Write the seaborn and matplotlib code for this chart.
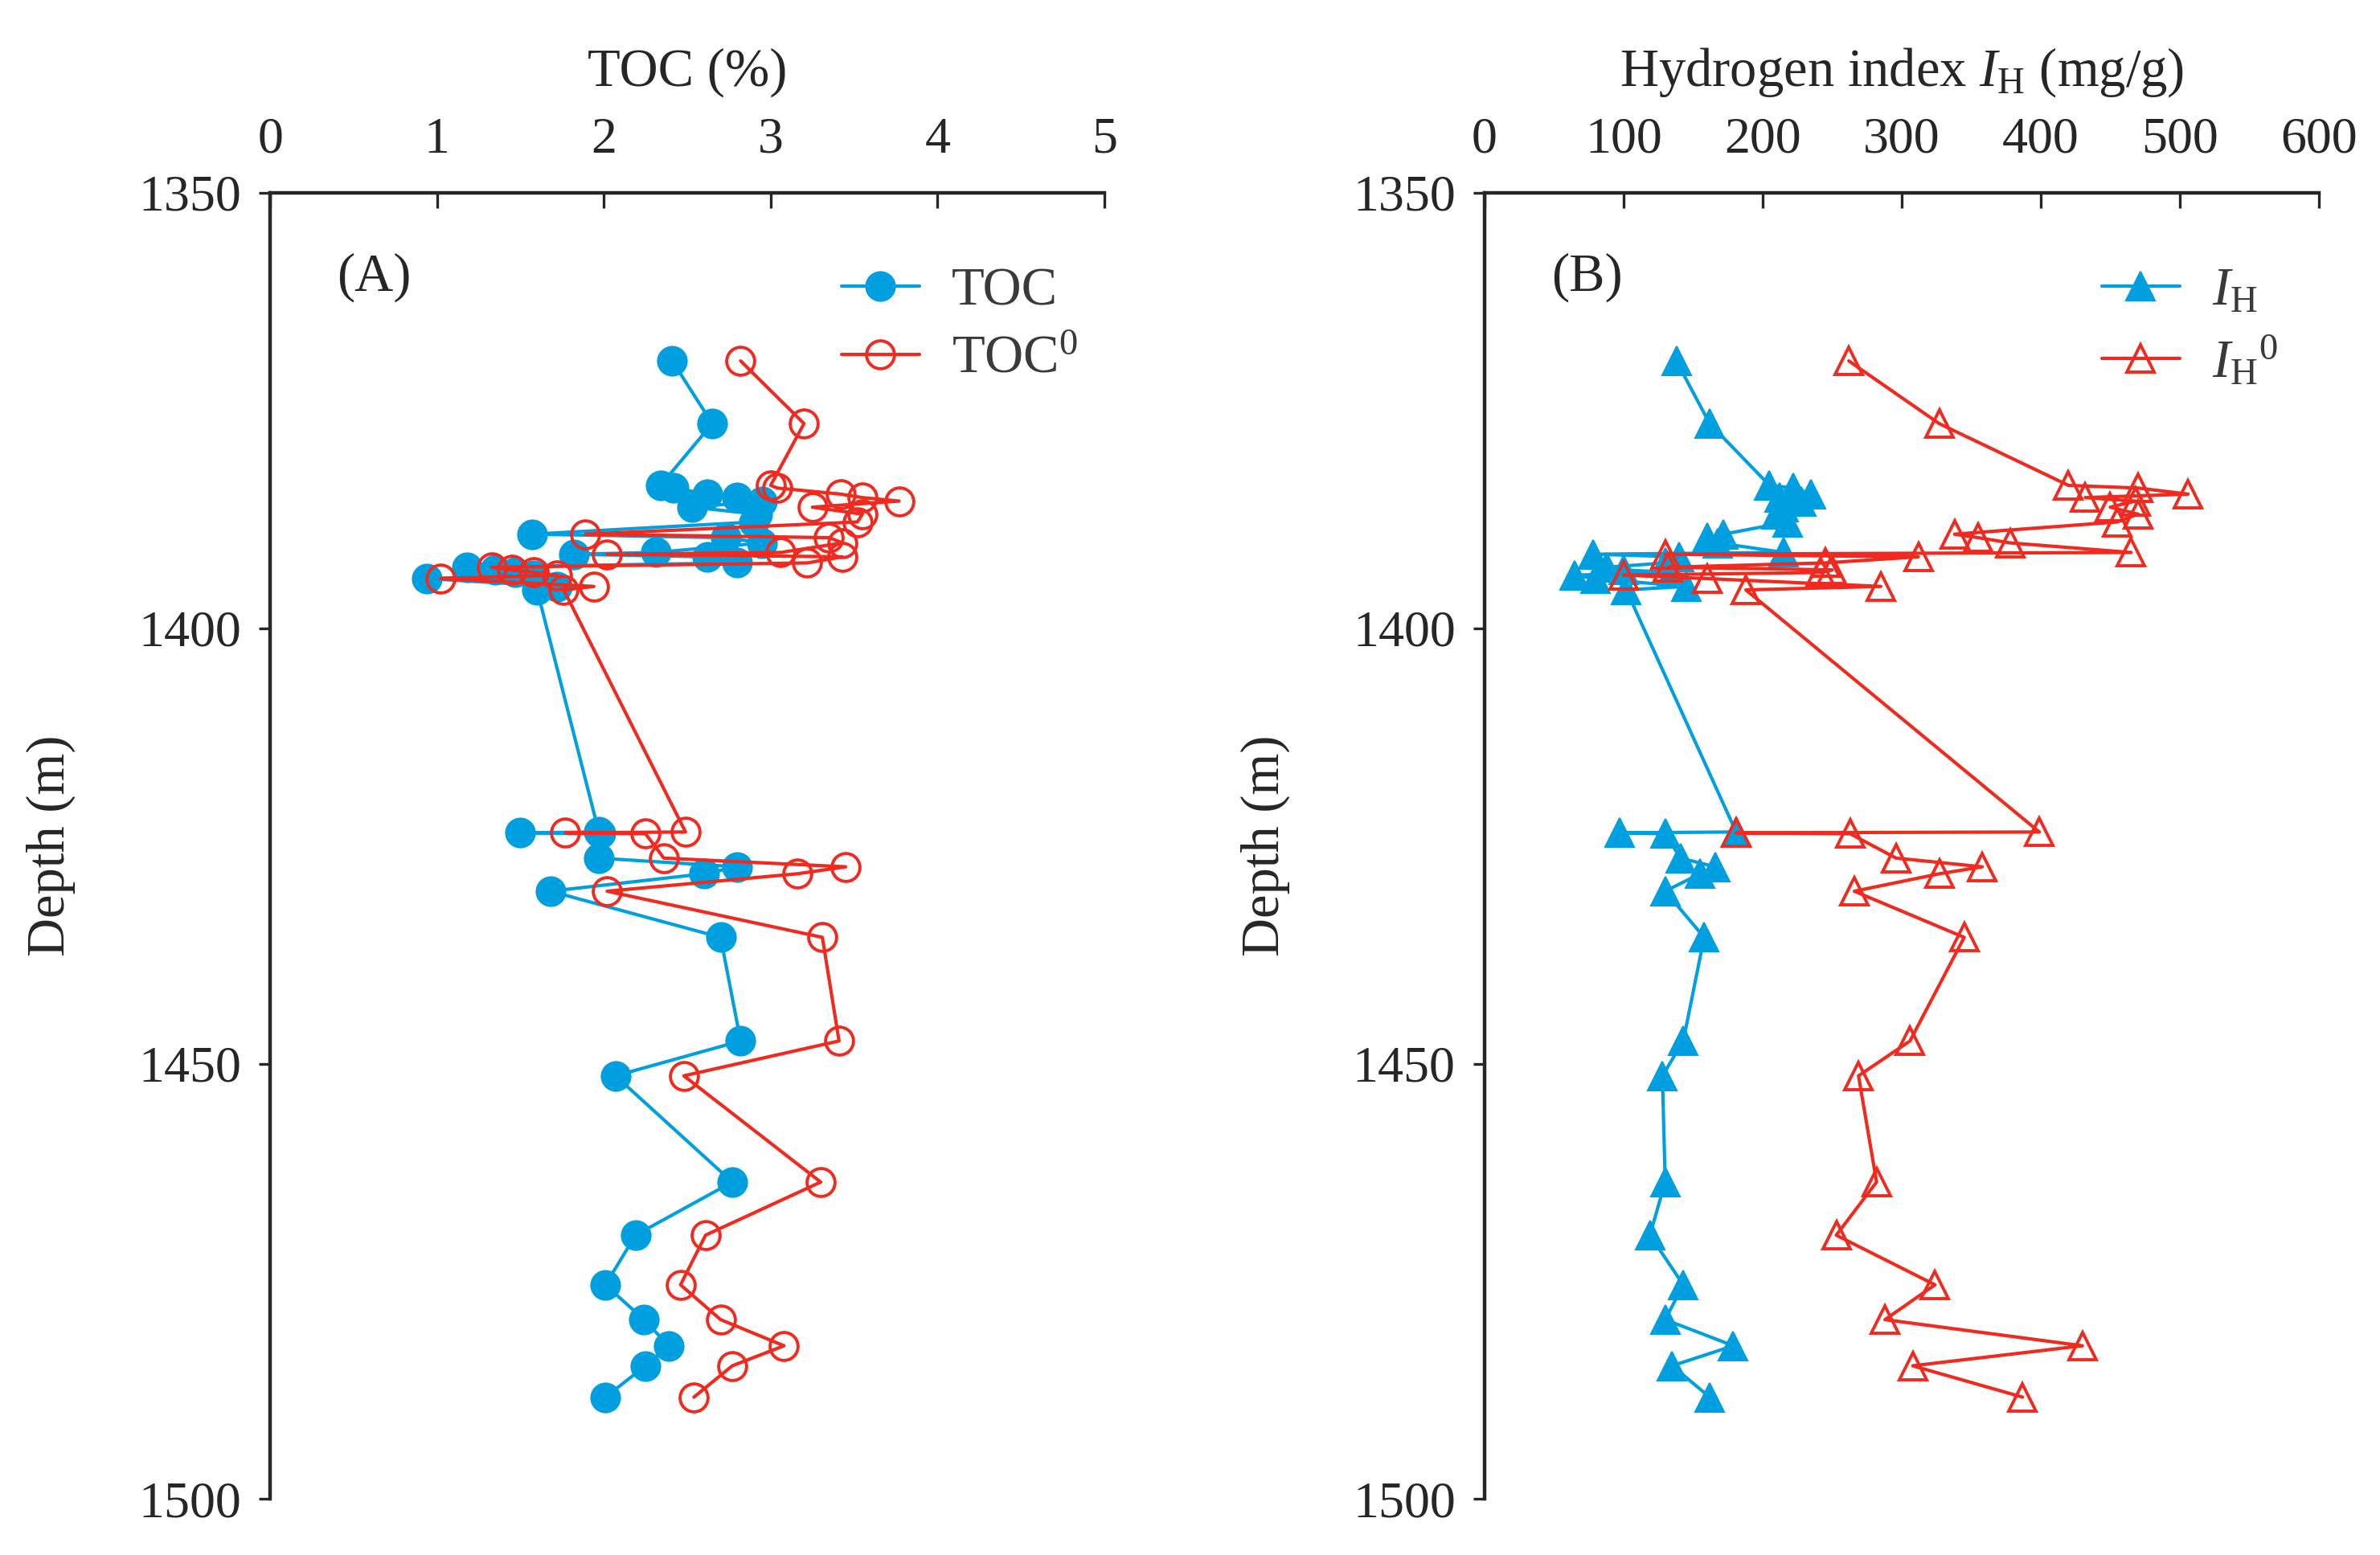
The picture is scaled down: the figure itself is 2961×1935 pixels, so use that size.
import pandas as pd
import matplotlib
matplotlib.use('Agg')
import matplotlib.pyplot as plt
import seaborn as sns

# Dados (profundidade em m)
depth = [1369.3, 1376.5, 1383.6, 1383.9, 1384.6, 1385.0, 1385.4, 1386.1, 1386.9, 1387.8,
         1389.2, 1389.6, 1390.2, 1391.3, 1391.5, 1391.8, 1392.5, 1393.0, 1393.3, 1393.6,
         1393.9, 1394.3, 1395.2, 1395.6, 1423.4, 1423.5, 1423.6, 1426.4, 1427.4, 1428.2,
         1430.2, 1435.5, 1447.4, 1451.4, 1463.6, 1469.7, 1475.4, 1479.4, 1482.4, 1484.7,
         1488.3]
toc = [2.41, 2.65, 2.34, 2.42, 2.62, 2.80, 2.95, 2.53, 2.92, 2.90,
       1.57, 2.73, 2.95, 2.31, 1.82, 2.62, 2.80, 1.18, 1.35, 1.47,
       1.58, 0.94, 1.72, 1.60, 1.97, 1.50, 1.98, 1.97, 2.80, 2.60,
       1.68, 2.70, 2.82, 2.07, 2.77, 2.19, 2.01, 2.24, 2.39, 2.25,
       2.01]
toc0 = [2.82, 3.20, 3.00, 3.04, 3.42, 3.55, 3.77, 3.25, 3.55, 3.52,
        1.89, 3.35, 3.43, 3.06, 2.02, 3.43, 3.22, 1.33, 1.45, 1.58,
        1.72, 1.02, 1.94, 1.76, 2.49, 1.77, 2.25, 2.36, 3.45, 3.16,
        2.02, 3.31, 3.41, 2.48, 3.30, 2.61, 2.46, 2.70, 3.08, 2.77,
        2.54]
ih = [138, 162, 205, 222, 235, 212, 228, 215, 210, 218,
      172, 160, 168, 215, 78, 140, 130, 88, 100, 135,
      65, 80, 145, 102, 181, 97, 130, 141, 166, 155,
      130, 158, 143, 128, 130, 119, 143, 130, 179, 135,
      162]
ih0 = [262, 327, 420, 470, 506, 432, 468, 450, 470, 455,
       338, 355, 378, 465, 130, 312, 245, 132, 250, 242,
       100, 160, 285, 188, 399, 181, 263, 296, 358, 327,
       266, 345, 306, 269, 282, 253, 324, 288, 430, 308,
       387]

df = pd.DataFrame({'depth': depth, 'TOC': toc, 'TOC0': toc0, 'IH': ih, 'IH0': ih0})

blue = '#00A0E0'
red = '#F02A1E'

sns.set_style('ticks')
plt.rcParams['font.family'] = ['Liberation Serif', 'DejaVu Serif']
plt.rcParams['mathtext.fontset'] = 'custom'
plt.rcParams['mathtext.rm'] = 'Liberation Serif'
plt.rcParams['mathtext.it'] = 'Liberation Serif:italic'

fig = plt.figure(figsize=(14.805, 9.675), dpi=200)
ax1 = fig.add_axes([0.1135, 0.036, 0.3505, 0.840])
ax2 = fig.add_axes([0.6237, 0.036, 0.3506, 0.840])


def estilo(ax, xlim, xticks, xlabel):
    ax.set_ylim(1500, 1350)
    ax.set_xlim(*xlim)
    ax.set_xticks(xticks)
    ax.set_yticks([1350, 1400, 1450, 1500])
    ax.xaxis.tick_top()
    ax.xaxis.set_label_position('top')
    ax.spines['right'].set_visible(False)
    ax.spines['bottom'].set_visible(False)
    ax.spines['top'].set_linewidth(1.6)
    ax.spines['left'].set_linewidth(1.6)
    ax.tick_params(axis='x', direction='in', length=7, width=1.2, labelsize=23, pad=13)
    ax.tick_params(axis='y', direction='out', length=5, width=1.2, labelsize=23, pad=8)
    ax.set_xlabel(xlabel, fontsize=24, labelpad=14)
    ax.set_ylabel('Depth (m)', fontsize=24, labelpad=28)


def legenda(ax, x0):
    leg = ax.legend(loc='upper left', bbox_to_anchor=(x0, 0.943), frameon=False,
                    fontsize=24, handlelength=1.45, handletextpad=0.6,
                    labelspacing=0.35, borderaxespad=0, borderpad=0)
    for t in leg.get_texts():
        t.set_color('#3a3a3a')


# Painel A - TOC
sns.lineplot(data=df, x='TOC', y='depth', sort=False, estimator=None, ax=ax1,
             color=blue, lw=1.5, marker='o', markersize=13, markerfacecolor=blue,
             markeredgecolor=blue, label='TOC')
sns.lineplot(data=df, x='TOC0', y='depth', sort=False, estimator=None, ax=ax1,
             color=red, lw=1.5, marker='o', markersize=12.5, markerfacecolor='none',
             markeredgecolor=red, markeredgewidth=1.4, label='TOC$^{0}$')
estilo(ax1, (0, 5), range(0, 6), 'TOC (%)')
ax1.text(0.08, 0.935, '(A)', transform=ax1.transAxes, fontsize=24, va='center')
legenda(ax1, 0.685)

# Painel B - IH
sns.lineplot(data=df, x='IH', y='depth', sort=False, estimator=None, ax=ax2,
             color=blue, lw=1.5, marker='^', markersize=13, markerfacecolor=blue,
             markeredgecolor=blue, label=r'$I_{\mathrm{H}}$')
sns.lineplot(data=df, x='IH0', y='depth', sort=False, estimator=None, ax=ax2,
             color=red, lw=1.5, marker='^', markersize=12.5, markerfacecolor='none',
             markeredgecolor=red, markeredgewidth=1.4, label=r'$I_{\mathrm{H}}{}^{0}$')
estilo(ax2, (0, 600), range(0, 700, 100), r'Hydrogen index $I_{\mathrm{H}}$ (mg/g)')
ax2.text(0.08, 0.935, '(B)', transform=ax2.transAxes, fontsize=24, va='center')
legenda(ax2, 0.74)

fig.savefig('out.png', dpi=200)
